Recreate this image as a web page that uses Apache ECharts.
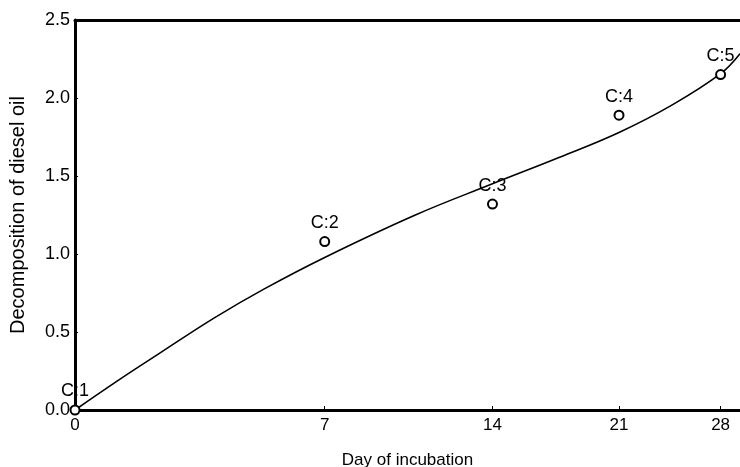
<!DOCTYPE html>
<html>
<head>
<meta charset="utf-8">
<script src="https://cdn.jsdelivr.net/npm/echarts@6/dist/echarts.min.js"></script>
<style>
html,body{margin:0;padding:0;background:#fff;}
#chart{width:740px;height:467px;}
</style>
</head>
<body>
<div id="chart"></div>
<script>
// Data
const pointDays = [0, 7, 14, 21, 28];
const pointValues = [0.0, 1.08, 1.32, 1.89, 2.15];
const pointLabels = ['C:1', 'C:2', 'C:3', 'C:4', 'C:5'];
const curveDays = [0, 1, 2, 3.5, 5, 7, 10.5, 14, 17.5, 21, 24.5, 28, 29.5];
const curveValues = [0, 0.193, 0.363, 0.592, 0.778, 0.978, 1.25, 1.45, 1.62, 1.779, 1.956, 2.156, 2.284];
const xTicks = [0, 7, 14, 21, 28];
const yTicks = [0, 0.5, 1.0, 1.5, 2.0, 2.5];
const xTitle = 'Day of incubation';
const yTitle = 'Decomposition of diesel oil';

// The reference's day axis is compressed logarithmically: shifted log scale
const SHIFT = 11.3;
const X_MAX_DAY = 29.5;

const FONT = 'Liberation Sans, Arial, sans-serif';
const NARROW = 'Liberation Sans Narrow, Liberation Sans, Arial, sans-serif';

const chart = echarts.init(document.getElementById('chart'), null, {renderer: 'canvas'});
chart.setOption({
  animation: false,
  backgroundColor: '#ffffff',
  grid: {left: 75, top: 20, right: 0, bottom: 57, containLabel: false, outerBoundsMode: 'none'},
  xAxis: [{
    type: 'log',
    logBase: Math.E,
    min: SHIFT + 0,
    max: SHIFT + X_MAX_DAY,
    name: xTitle,
    nameLocation: 'middle',
    nameGap: 42,
    nameTextStyle: {fontFamily: NARROW, fontSize: 17, color: '#000'},
    axisLine: {show: true, lineStyle: {color: '#000', width: 3}},
    axisTick: {show: true, inside: true, length: 4, lineStyle: {color: '#000', width: 1}, customValues: xTicks.map(d => d + SHIFT)},
    axisLabel: {show: true, margin: 7, fontFamily: NARROW, fontSize: 17, color: '#000',
      customValues: xTicks.map(d => d + SHIFT),
      formatter: v => String(Math.round(v - SHIFT))},
    splitLine: {show: false},
    minorTick: {show: false}
  }, {
    type: 'value',
    position: 'top',
    min: 0, max: 1,
    axisLine: {show: true, onZero: false, lineStyle: {color: '#000', width: 3}},
    axisTick: {show: false},
    axisLabel: {show: false},
    splitLine: {show: false}
  }],
  yAxis: {
    type: 'value',
    min: 0,
    max: 2.5,
    interval: 0.5,
    name: yTitle,
    nameLocation: 'middle',
    nameGap: 47,
    nameTextStyle: {fontFamily: FONT, fontSize: 20, color: '#000'},
    axisLine: {show: true, lineStyle: {color: '#000', width: 3}},
    axisTick: {show: true, inside: true, length: 3, lineStyle: {color: '#000', width: 1}},
    axisLabel: {margin: 5, fontFamily: FONT, fontSize: 18, color: '#000',
      formatter: v => v.toFixed(1)},
    splitLine: {show: false}
  },
  series: [{
    type: 'line',
    xAxisIndex: 0,
    data: curveDays.map((d, i) => [d + SHIFT, curveValues[i]]),
    smooth: 0.4,
    showSymbol: false,
    symbol: 'none',
    clip: true,
    lineStyle: {color: '#000', width: 1.6},
    z: 3
  }, {
    type: 'scatter',
    xAxisIndex: 0,
    data: pointDays.map((d, i) => ({value: [d + SHIFT, pointValues[i]], name: pointLabels[i]})),
    symbol: 'emptyCircle',
    symbolSize: 9,
    clip: false,
    itemStyle: {color: '#000', borderColor: '#000', borderWidth: 1.5, opacity: 1},
    label: {show: true, position: 'top', distance: 4, formatter: p => p.name,
      fontFamily: FONT, fontSize: 18, color: '#000', textBorderWidth: 0},
    z: 4
  }]
});
</script>
</body>
</html>
